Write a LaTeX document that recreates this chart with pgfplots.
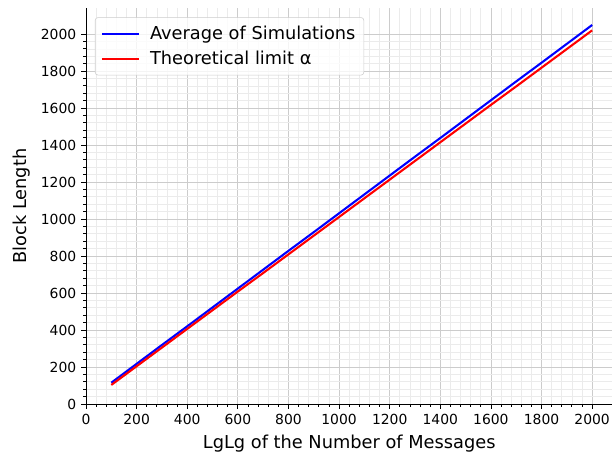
\documentclass[border=0pt]{standalone}
\usepackage{fontspec}
\setmainfont{DejaVu Sans}
\usepackage{pgfplots}
\pgfplotsset{compat=1.18}

\pgfplotstableread{
x   avg   theo
100  115  103
200  217  204
300  319  305
400  420  406
500  522  507
600  624  608
700  726  708
800  828  809
900  929  910
1000 1031 1011
1100 1133 1112
1200 1235 1213
1300 1337 1314
1400 1438 1415
1500 1540 1516
1600 1642 1617
1700 1744 1717
1800 1845 1818
1900 1947 1919
2000 2049 2020
}\blocks

\begin{document}
\begin{tikzpicture}
\begin{axis}[
    scale only axis,
    width=379pt, height=285pt,
    xmin=0, xmax=2080,
    ymin=0, ymax=2140,
    axis x line=bottom, axis y line=left,
    axis line style={-, line width=0.6pt},
    xtick={0,200,...,2000},
    ytick={0,200,...,2000},
    minor tick num=4,
    tick align=outside,
    major tick length=3.5pt,
    minor tick length=2pt,
    tick style={black, line width=0.6pt},
    grid=both,
    major grid style={color=black!20, line width=0.6pt},
    minor grid style={color=black!8, line width=0.5pt},
    ticklabel style={font=\fontsize{10}{12}\selectfont},
    /pgf/number format/assume math mode=true,
    /pgf/number format/set thousands separator={},
    xlabel={LgLg of the Number of Messages},
    ylabel={Block Length},
    label style={font=\fontsize{12.8}{15}\selectfont},
    xlabel style={yshift=-1pt},
    ylabel style={yshift=1pt},
    legend cell align=left,
    legend style={
        at={(0.017,0.977)}, anchor=north west,
        draw=black!20, rounded corners=2pt,
        fill=white, fill opacity=0.8, text opacity=1,
        font=\fontsize{12.8}{15}\selectfont,
        inner xsep=4pt, inner ysep=4pt,
        row sep=3pt, column sep=5pt,
    },
    legend image code/.code={\draw[#1] (0pt,0pt) -- (27pt,0pt);},
]
\addplot[blue, line width=1.5pt] table[x=x, y=avg] {\blocks};
\addlegendentry{Average of Simulations}
\addplot[red, line width=1.5pt] table[x=x, y=theo] {\blocks};
\addlegendentry{Theoretical limit α}
\end{axis}
\pgfresetboundingbox
\useasboundingbox (-61.92pt,-40.32pt) rectangle (379.44pt,290.88pt);
\end{tikzpicture}
\end{document}
